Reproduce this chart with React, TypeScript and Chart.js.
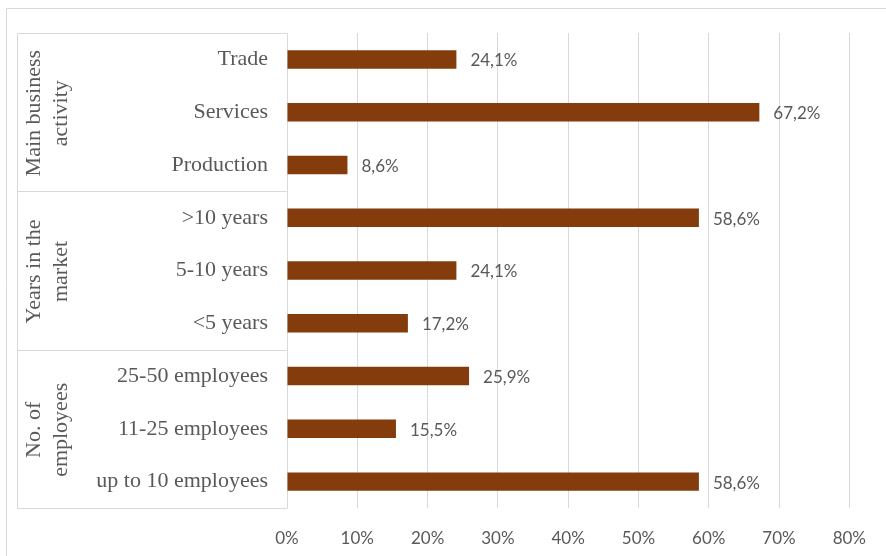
import React, { useEffect, useRef } from "react";
import { Chart, registerables } from "chart.js";

Chart.register(...registerables);

const categories: string[] = [
  "Trade",
  "Services",
  "Production",
  ">10 years",
  "5-10 years",
  "<5 years",
  "25-50 employees",
  "11-25 employees",
  "up to 10 employees",
];
const values: number[] = [24.1, 67.2, 8.6, 58.6, 24.1, 17.2, 25.9, 15.5, 58.6];
const groupLabels: string[][] = [
  ["Main business", "activity"],
  ["Years in the", "market"],
  ["No. of", "employees"],
];
const groupSizes: number[] = [3, 3, 3];
const xTicks: number[] = [0, 10, 20, 30, 40, 50, 60, 70, 80];

const GRID = "#d9d9d9";
const TEXT = "#595959";
const BAR = "#843C0C";
const SERIF = "'Liberation Serif', 'Times New Roman', serif";
const SANS = "Lato, 'Open Sans', sans-serif";

const decorPlugin = {
  id: "decor",
  beforeDraw(chart: any) {
    const ctx = chart.ctx;
    ctx.save();
    ctx.strokeStyle = GRID;
    ctx.lineWidth = 1;
    ctx.beginPath();
    ctx.moveTo(6.5, chart.height);
    ctx.lineTo(6.5, 8.5);
    ctx.lineTo(chart.width, 8.5);
    ctx.stroke();
    ctx.restore();
  },
  afterDraw(chart: any) {
    const ctx = chart.ctx;
    const y = chart.scales.y;
    const area = chart.chartArea;
    const boxLeft = 17.5;
    const boxRight = Math.round(area.left) - 0.5;
    ctx.save();
    ctx.strokeStyle = GRID;
    ctx.lineWidth = 1;
    ctx.beginPath();
    ctx.moveTo(boxLeft, Math.round(area.top) + 0.5);
    ctx.lineTo(boxRight, Math.round(area.top) + 0.5);
    ctx.moveTo(boxLeft, Math.round(area.top) + 0.5);
    ctx.lineTo(boxLeft, Math.round(area.bottom) + 0.5);
    ctx.moveTo(boxLeft, Math.round(area.bottom) + 0.5);
    ctx.lineTo(boxRight + 1, Math.round(area.bottom) + 0.5);
    ctx.stroke();
    let start = 0;
    ctx.fillStyle = TEXT;
    ctx.font = "22px " + SERIF;
    ctx.textAlign = "center";
    ctx.textBaseline = "middle";
    groupSizes.forEach((size, gi) => {
      const end = start + size - 1;
      if (end < categories.length - 1) {
        const by = Math.round((y.getPixelForValue(end) + y.getPixelForValue(end + 1)) / 2) + 0.5;
        ctx.beginPath();
        ctx.moveTo(boxLeft, by);
        ctx.lineTo(boxRight, by);
        ctx.stroke();
      }
      const cy = (y.getPixelForValue(start) + y.getPixelForValue(end)) / 2 + 1;
      const lines = groupLabels[gi];
      lines.forEach((line, li) => {
        ctx.save();
        ctx.translate(34 + li * 27, cy);
        ctx.rotate(-Math.PI / 2);
        ctx.fillText(line, 0, 0);
        ctx.restore();
      });
      start += size;
    });
    ctx.restore();
  },
  afterDatasetsDraw(chart: any) {
    const ctx = chart.ctx;
    const meta = chart.getDatasetMeta(0);
    ctx.save();
    ctx.fillStyle = TEXT;
    ctx.font = "17px " + SANS;
    ctx.textAlign = "left";
    ctx.textBaseline = "middle";
    meta.data.forEach((bar: any, i: number) => {
      const txt = values[i].toFixed(1).replace(".", ",") + "%";
      ctx.fillText(txt, bar.x + 14, bar.y + 1.5);
    });
    ctx.restore();
  },
};

export default function App() {
  const ref = useRef<HTMLCanvasElement | null>(null);
  useEffect(() => {
    document.body.style.margin = "0";
    const canvas = ref.current;
    if (!canvas) return;
    const chart = new Chart(canvas, {
      type: "bar",
      data: {
        labels: categories,
        datasets: [
          {
            data: values,
            backgroundColor: BAR,
            borderWidth: 0,
            categoryPercentage: 1,
            barPercentage: 0.35,
          },
        ],
      },
      options: {
        indexAxis: "y",
        responsive: false,
        animation: false,
        devicePixelRatio: 1,
        layout: { padding: { top: 33, right: 34, left: 0, bottom: 0 } },
        plugins: {
          legend: { display: false },
          tooltip: { enabled: false },
        },
        scales: {
          x: {
            min: 0,
            max: 80,
            afterBuildTicks: (scale: any) => {
              scale.ticks = xTicks.map((v) => ({ value: v }));
            },
            afterFit: (scale: any) => {
              scale.height = 48;
            },
            grid: { color: GRID, drawTicks: false, lineWidth: 1 },
            border: { display: false },
            ticks: {
              color: TEXT,
              font: { family: SANS, size: 17 },
              padding: 20,
              callback: (v: any) => v + "%",
            },
          },
          y: {
            afterFit: (scale: any) => {
              scale.width = 287;
            },
            grid: { display: false, drawTicks: false },
            border: { display: false },
            ticks: {
              color: TEXT,
              font: { family: SERIF, size: 22 },
              padding: 19,
              autoSkip: false,
            },
          },
        },
      },
      plugins: [decorPlugin],
    });
    return () => chart.destroy();
  }, []);
  return (
    <div style={{ width: 886, height: 556 }}>
      <canvas ref={ref} width={886} height={556} style={{ display: "block" }} />
    </div>
  );
}
